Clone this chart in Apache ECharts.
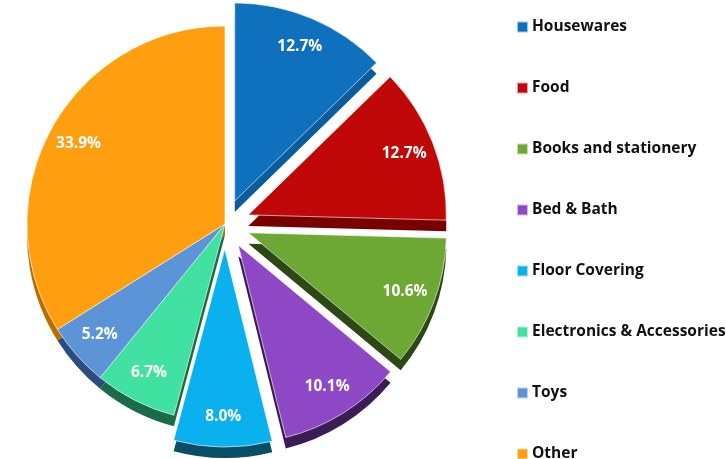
<!DOCTYPE html>
<html>
<head>
<meta charset="utf-8">
<script src="https://cdn.jsdelivr.net/npm/echarts@6/dist/echarts.min.js"></script>
<style>
  html, body { margin: 0; padding: 0; background: #fff; }
  #chart { width: 726px; height: 459px; }
</style>
</head>
<body>
<div id="chart"></div>
<script>
const categories = ["Housewares", "Food", "Books and stationery", "Bed & Bath",
  "Floor Covering", "Electronics & Accessories", "Toys", "Other"];
const shares = [12.7, 12.7, 10.6, 10.1, 8.0, 6.7, 5.2, 33.9];
const pulledOut = ["Housewares", "Food", "Books and stationery", "Bed & Bath", "Floor Covering"];

const topColors = ["#0F71BE", "#C00808", "#6EA834", "#8E48C6", "#0BB0EE", "#41E1A1", "#5B95D7", "#FF9F10"];
const sideColors = ["#0A5C9C", "#780000", "#2C4815", "#3A1D55", "#0A4D66", "#1B6A48", "#2C4C7E", "#B86E00"];

const CX = 225, CY = 224, R = 198, DEPTH = 11, PULL = 25;
const FONT = "Open Sans";

function items(colors) {
  return categories.map((c, i) => ({
    name: c,
    value: shares[i],
    selected: pulledOut.indexOf(c) >= 0,
    itemStyle: { color: colors[i] }
  }));
}

const base = {
  type: "pie",
  startAngle: 90,
  selectedMode: "multiple",
  selectedOffset: PULL,
  animation: false,
  silent: true,
  labelLine: { show: false },
  emphasis: { disabled: true }
};

const chart = echarts.init(document.getElementById("chart"), null, { renderer: "canvas" });

chart.setOption({
  backgroundColor: "#fff",
  legend: {
    orient: "vertical",
    left: 516,
    top: 19,
    height: 460,
    padding: 0,
    itemWidth: 11,
    itemHeight: 11,
    itemGap: 45,
    icon: "rect",
    selectedMode: false,
    data: categories,
    textStyle: {
      fontFamily: FONT,
      fontWeight: "bold",
      fontSize: 15.5,
      lineHeight: 16,
      color: "#111",
      padding: [0, 0, 0, -1]
    }
  },
  series: [
    Object.assign({}, base, {
      name: "top",
      z: 3,
      center: [CX, CY],
      radius: [0, R],
      label: { show: false },
      itemStyle: { borderColor: "rgba(255,255,255,0.6)", borderWidth: 1 },
      data: items(topColors)
    }),
    Object.assign({}, base, {
      name: "side",
      z: 2,
      center: [CX, CY + DEPTH],
      radius: [0, R],
      label: { show: false },
      data: items(sideColors)
    }),
    Object.assign({}, base, {
      name: "labels",
      z: 4,
      center: [CX, CY],
      radius: [R * 0.66, R],
      itemStyle: { color: "rgba(0,0,0,0)" },
      label: {
        show: true,
        position: "inside",
        color: "#fff",
        fontFamily: FONT,
        fontWeight: "bold",
        fontSize: 15.5,
        formatter: p => p.value.toFixed(1) + "%"
      },
      data: categories.map((c, i) => ({
        name: c,
        value: shares[i],
        selected: pulledOut.indexOf(c) >= 0
      }))
    })
  ]
});
</script>
</body>
</html>
